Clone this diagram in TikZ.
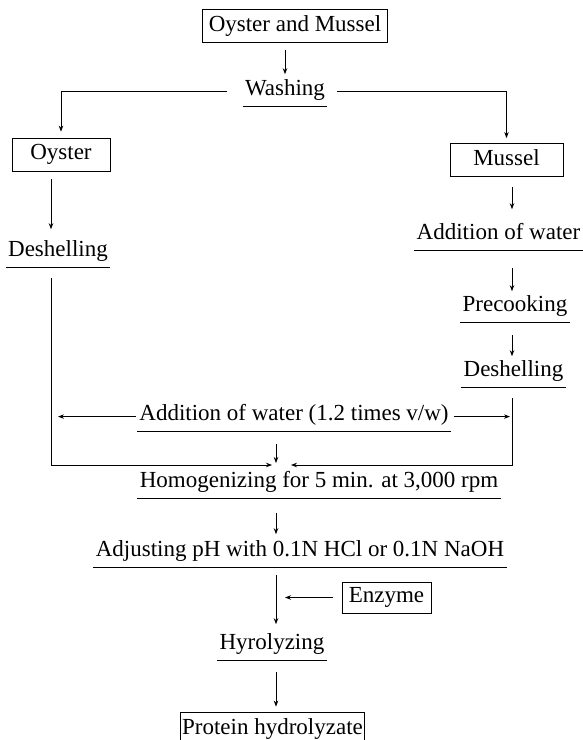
\documentclass[tikz,border=0pt]{standalone}
\usepackage{fontspec}
\setmainfont{Liberation Serif}
\usetikzlibrary{arrows.meta}

\begin{document}
\begin{tikzpicture}[
  x=1pt, y=-1pt,
  font=\fontsize{23}{27}\selectfont,
  line width=0.8pt,
  box/.style={draw, inner xsep=6pt, minimum height=33pt, text height=16pt, text depth=5.5pt},
  stage/.style={anchor=south, inner xsep=2pt, inner ysep=2pt, text height=16pt, text depth=8pt,
    append after command={(\tikzlastnode.south west) edge (\tikzlastnode.south east)}},
  arrow/.style={-{Stealth[length=6pt, width=4.5pt]}, shorten <=7pt, shorten >=3pt}
]
\useasboundingbox (0,0) rectangle (582,740);
\coordinate (lcol) at (51,0);
\coordinate (rcol) at (512,0);
\coordinate (meet) at (276,465);

\node[box, minimum width=178pt] (both) at (295,26) {Oyster and Mussel};
\node[stage] (wash) at (285,106) {Washing};
\node[box, minimum width=98pt] (oyster) at (61,154.5) {Oyster};
\node[box, minimum width=113pt] (mussel) at (506.5,160) {Mussel};
\node[stage] (deshl) at (58,267) {Deshelling};
\node[stage] (addr) at (498.5,250) {Addition of water};
\node[stage] (precook) at (515,322) {Precooking};
\node[stage] (deshr) at (513.5,387) {Deshelling};
\node[stage] (addmid) at (294,431) {Addition of water (1.2 times v/w)};
\node[stage] (homog) at (319,498) {Homogenizing for 5 min. at 3,000 rpm};
\node[stage] (adjust) at (300,567) {Adjusting pH with 0.1N HCl or 0.1N NaOH};
\node[box, minimum width=89pt, minimum height=31pt] (enzyme) at (386.5,597.5) {Enzyme};
\node[stage] (hyro) at (272,660) {Hyrolyzing};
\node[box, inner xsep=2pt, minimum height=34pt] (prod) at (272.5,729) {Protein hydrolyzate};

\draw[arrow] (wash.north |- both.south) -- (wash.north);
\draw[arrow, shorten <=0pt, shorten >=6pt] ([xshift=-16pt]wash.west) -| (oyster.north);
\draw[arrow, shorten <=0pt, shorten >=5pt] ([xshift=10pt]wash.east) -| (mussel.north);
\draw[arrow, shorten <=8pt, shorten >=9pt] (lcol |- oyster.south) -- (lcol |- deshl.north);
\draw[arrow, shorten <=10pt, shorten >=12pt] (rcol |- mussel.south) -- (rcol |- addr.north);
\draw[arrow, shorten <=18pt, shorten >=2pt] (rcol |- addr.south) -- (rcol |- precook.north);
\draw[arrow, shorten <=13pt, shorten >=2pt] (rcol |- precook.south) -- (rcol |- deshr.north);
\draw[arrow, shorten <=1pt, shorten >=7pt] (addmid.west) -- (lcol |- addmid.west);
\draw[arrow, shorten <=3pt, shorten >=2pt] (addmid.east) -- (rcol |- addmid.east);
\draw[arrow, shorten <=11pt, shorten >=4pt] (lcol |- deshl.south) |- (meet);
\draw[arrow, shorten <=11pt, shorten >=15pt] (rcol |- deshr.south) |- (meet);
\draw[arrow, shorten <=13pt, shorten >=2pt] (meet |- addmid.south) -- (meet);
\draw[arrow, shorten <=15pt, shorten >=4pt] (meet |- homog.south) -- (meet |- adjust.north);
\draw[arrow, shorten <=8pt, shorten >=7pt] (meet |- adjust.south) -- (meet |- hyro.north);
\draw[arrow, shorten <=9pt, shorten >=9pt] (enzyme.west) -- (meet |- enzyme.west);
\draw[arrow, shorten <=12pt, shorten >=5pt] (meet |- hyro.south) -- (meet |- prod.north);
\end{tikzpicture}
\end{document}
